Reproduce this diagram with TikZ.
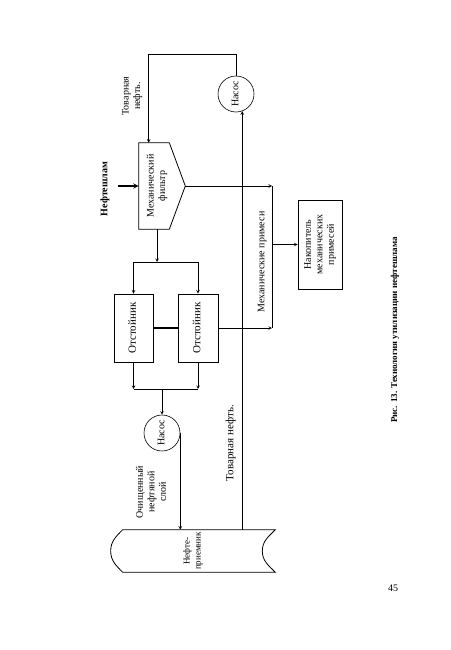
\documentclass[tikz,border=0pt]{standalone}
\usepackage{fontspec}
\setmainfont{Liberation Serif}
\usepackage{tikz}
\usetikzlibrary{arrows,positioning}
\tikzstyle{arrow} = [->,>=stealth]
\tikzstyle{unit} = [rectangle, draw, line width=0.8pt, inner sep=0pt]
\tikzstyle{pump} = [circle, draw, minimum size=36pt, inner sep=0pt]
\newcommand{\vlabel}[1]{\rotatebox{90}{\begin{tabular}{@{}c@{}}#1\end{tabular}}}

\begin{document}
\begin{tikzpicture}[x=1pt, y=-1pt, line width=0.6pt, font=\fontsize{10}{11.5}\selectfont]
\useasboundingbox (0,0) rectangle (450,650);

% Mechanical filter
\node (filt) [minimum width=36pt, minimum height=86pt, inner sep=0pt] at (157,186) {\vlabel{Механический\\фильтр}};
\draw[line width=0.8pt] (filt.north west) -- ([xshift=-6pt]filt.north east) -- ([xshift=10pt]filt.east) -- ([xshift=-6pt]filt.south east) -- (filt.south west) -- cycle;
\coordinate (tip) at ([xshift=10pt]filt.east);
\node (sludge) [inner sep=0pt, font=\fontsize{10}{11.5}\selectfont\bfseries] at (105,189) {\vlabel{Нефтешлам}};
\draw[arrow, line width=1.4pt, shorten <=7pt] (sludge.east |- filt.west) -- (filt.west);

% Pumps
\node (pump1) [pump] at (236,94) {\vlabel{Насос}};
\node (pump2) [pump] at (162,433) {\vlabel{Насос}};
\draw[arrow] (pump1.north) -- ++(0,-21) -| ([xshift=10pt]filt.north west);
\node (prodlbl1) [inner sep=0pt] at (132,96) {\vlabel{Товарная\\нефть.}};

% Settlers
\node (set1) [unit, minimum width=39pt, minimum height=68pt, font=\fontsize{11}{12}\selectfont] at (133.5,328) {\vlabel{Отстойник}};
\node (set2) [unit, minimum width=40pt, minimum height=68pt, font=\fontsize{11}{12}\selectfont] at (198,328) {\vlabel{Отстойник}};
\coordinate (split) at (157,262);
\draw[arrow] (filt.south) -- (filt.south |- split);
\draw (set1.north |- split) -- (set2.north |- split);
\draw[arrow] (set1.north |- split) -- (set1.north);
\draw[arrow] (set2.north |- split) -- (set2.north);
\draw[line width=1.2pt] (set1.east) -- (set2.west);
\coordinate (merge) at (162,389);
\draw (set1.south |- merge) -- (set2.south |- merge);
\draw[arrow] (set1.south) -- (set1.south |- merge);
\draw[arrow] (set2.south) -- (set2.south |- merge);
\draw[arrow] (merge) -- (pump2.north);

% Oil receiver
\node (tank) [minimum width=164pt, minimum height=42pt, inner sep=0pt, font=\fontsize{9}{11}\selectfont] at (193,551) {\vlabel{Нефте-\\приемник}};
\draw[line width=0.8pt] ([xshift=12pt]tank.north west) -- (tank.north east)
  to[out=225,in=90] ([xshift=-13pt]tank.east) to[out=270,in=135] (tank.south east)
  -- ([xshift=12pt]tank.south west) to[out=135,in=270] (tank.west)
  to[out=90,in=225] ([xshift=12pt]tank.north west);
\draw[arrow] (pump2.east) -- (pump2.east |- tank.north);
\node (oillbl) [inner sep=0pt] at (152,492) {\vlabel{Очищенный\\нефтяной\\слой}};
\draw[arrow] (pump1.-70 |- tank.north) -- (pump1.-70);
\node (prodlbl2) [inner sep=0pt, font=\fontsize{11}{12}\selectfont] at (231,443) {\vlabel{Товарная нефть.}};

% Mechanical impurities
\node (coll) [unit, minimum width=44pt, minimum height=89pt] at (320,244.5) {\vlabel{Накопитель\\механических\\примесей}};
\coordinate (mtop) at (272,186);
\coordinate (mbot) at (272,328);
\draw[arrow] (tip) -- (mtop);
\draw[arrow] (set2.east) -- (mbot);
\draw (mtop) -- (mbot);
\draw[arrow] (mtop |- coll.west) -- (coll.west);
\node (mechlbl) [inner sep=0pt] at (262,262) {\vlabel{Механические примеси}};

% Caption
\node (caption) [inner sep=0pt, font=\fontsize{9}{11}\selectfont] at (395,330) {\vlabel{\bfseries Рис. 13. Технология утилизации нефтешлама}};
\node (pagenum) [inner sep=0pt] at (393,588) {45};
\end{tikzpicture}
\end{document}
